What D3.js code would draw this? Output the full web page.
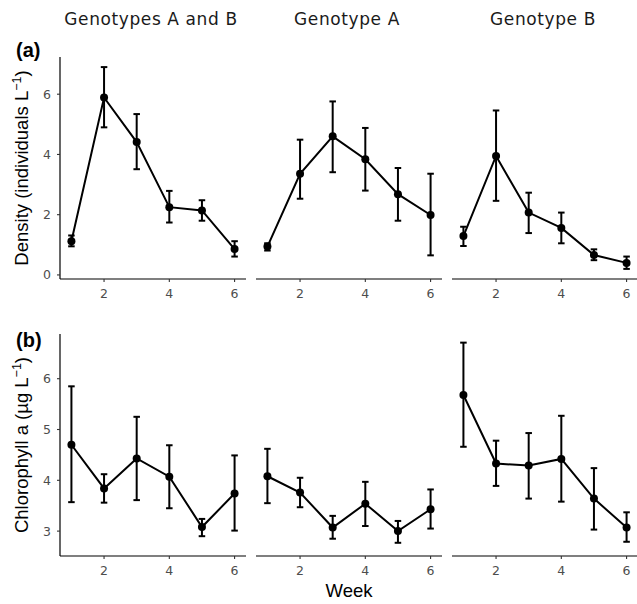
<!DOCTYPE html>
<html>
<head>
<meta charset="utf-8">
<script src="https://cdn.jsdelivr.net/npm/d3@7"></script>
<style>
  body { margin: 0; background: #fff; }
  svg { display: block; }
</style>
</head>
<body>
<div id="chart"></div>
<script>
// global const
const width = 637, height = 604;
const panelX = [60, 256, 452], panelW = 186;
const rowA = { top: 57, bottom: 279 }, rowB = { top: 334, bottom: 556 };
const tickFont = "'DejaVu Sans', Verdana, sans-serif";
const titleFont = "'Liberation Sans', Arial, sans-serif";

// data
const weeks = [1, 2, 3, 4, 5, 6];
const genotypes = ["Genotypes A and B", "Genotype A", "Genotype B"];

// (a) density, mean and error bar limits
const densityMean = [
    [1.12, 5.89, 4.41, 2.25, 2.14, 0.86],
    [0.94, 3.36, 4.60, 3.84, 2.68, 1.99],
    [1.29, 3.95, 2.07, 1.56, 0.66, 0.40]
];
const densityLow = [
    [0.95, 4.90, 3.51, 1.74, 1.80, 0.61],
    [0.81, 2.53, 3.41, 2.80, 1.80, 0.65],
    [0.96, 2.46, 1.39, 1.05, 0.49, 0.20]
];
const densityHigh = [
    [1.31, 6.90, 5.34, 2.79, 2.48, 1.12],
    [1.05, 4.49, 5.76, 4.88, 3.55, 3.36],
    [1.60, 5.46, 2.73, 2.07, 0.85, 0.61]
];

// (b) chlorophyll a
const chlMean = [
    [4.70, 3.84, 4.43, 4.07, 3.08, 3.74],
    [4.08, 3.76, 3.07, 3.54, 3.00, 3.43],
    [5.68, 4.33, 4.29, 4.42, 3.64, 3.07]
];
const chlLow = [
    [3.57, 3.56, 3.61, 3.45, 2.90, 3.01],
    [3.55, 3.47, 2.85, 3.10, 2.77, 3.05],
    [4.66, 3.89, 3.64, 3.58, 3.03, 2.79]
];
const chlHigh = [
    [5.85, 4.12, 5.25, 4.69, 3.24, 4.49],
    [4.62, 4.05, 3.30, 3.97, 3.20, 3.82],
    [6.71, 4.78, 4.93, 5.27, 4.24, 3.37]
];

const xTicks = [2, 4, 6];
const densityTicks = [0, 2, 4, 6];
const chlTicks = [3, 4, 5, 6];

var svg = d3.select("#chart")
    .append("svg")
    .attr("width", width)
    .attr("height", height)
    .style("background-color", "white");

const yA = d3.scaleLinear().domain([-0.135, 7.235]).range([rowA.bottom, rowA.top]);
const yB = d3.scaleLinear().domain([2.51, 6.88]).range([rowB.bottom, rowB.top]);

function drawPanel(g, x, y, mean, low, high, yTicks, showY) {
    var x0 = x.range()[0], x1 = x.range()[1];
    var yb = y.range()[0], yt = y.range()[1];

    // x axis
    g.append("line")
        .attr("x1", x0).attr("x2", x1)
        .attr("y1", yb).attr("y2", yb)
        .attr("stroke", "black").attr("stroke-width", 1.2);
    xTicks.forEach(t => {
        g.append("line")
            .attr("x1", x(t)).attr("x2", x(t))
            .attr("y1", yb).attr("y2", yb + 3)
            .attr("stroke", "#333").attr("stroke-width", 1.1);
        g.append("text")
            .attr("x", x(t)).attr("y", yb + 19)
            .attr("text-anchor", "middle")
            .attr("font-family", tickFont)
            .attr("font-size", 12.5)
            .attr("fill", "#4d4d4d")
            .text(t);
    });

    // y axis only on the first column
    if (showY) {
        g.append("line")
            .attr("x1", x0).attr("x2", x0)
            .attr("y1", yb).attr("y2", yt)
            .attr("stroke", "black").attr("stroke-width", 1.2);
        yTicks.forEach(t => {
            g.append("line")
                .attr("x1", x0 - 3).attr("x2", x0)
                .attr("y1", y(t)).attr("y2", y(t))
                .attr("stroke", "#333").attr("stroke-width", 1.1);
            g.append("text")
                .attr("x", x0 - 9).attr("y", y(t) + 4.5)
                .attr("text-anchor", "end")
                .attr("font-family", tickFont)
                .attr("font-size", 12.5)
                .attr("fill", "#4d4d4d")
                .text(t);
        });
    }

    var line = d3.line()
        .x((d, i) => x(weeks[i]))
        .y(d => y(d));

    g.append("path")
        .datum(mean)
        .attr("d", line)
        .attr("fill", "none")
        .attr("stroke", "black")
        .attr("stroke-width", 2);

    var capW = x(1.1) - x(1);
    weeks.forEach((w, i) => {
        var cx = x(w);
        g.append("line")
            .attr("x1", cx).attr("x2", cx)
            .attr("y1", y(low[i])).attr("y2", y(high[i]))
            .attr("stroke", "black").attr("stroke-width", 2);
        [low[i], high[i]].forEach(v => {
            g.append("line")
                .attr("x1", cx - capW).attr("x2", cx + capW)
                .attr("y1", y(v)).attr("y2", y(v))
                .attr("stroke", "black").attr("stroke-width", 2);
        });
    });

    g.selectAll("circle")
        .data(mean)
        .join("circle")
        .attr("cx", (d, i) => x(weeks[i]))
        .attr("cy", d => y(d))
        .attr("r", 4)
        .attr("fill", "black");
}

genotypes.forEach((name, k) => {
    var x = d3.scaleLinear()
        .domain([0.65, 6.35])
        .range([panelX[k], panelX[k] + panelW]);

    // strip title
    svg.append("text")
        .attr("x", panelX[k] + panelW / 2 - 2)
        .attr("y", 25)
        .attr("text-anchor", "middle")
        .attr("font-family", tickFont)
        .attr("font-size", 17)
        .attr("letter-spacing", 0.6)
        .attr("fill", "#1a1a1a")
        .text(name);

    drawPanel(svg.append("g"), x, yA, densityMean[k], densityLow[k], densityHigh[k], densityTicks, k == 0);
    drawPanel(svg.append("g"), x, yB, chlMean[k], chlLow[k], chlHigh[k], chlTicks, k == 0);
});

// panel tags
svg.append("text")
    .attr("x", 16).attr("y", 57)
    .attr("font-family", titleFont)
    .attr("font-weight", "bold")
    .attr("font-size", 20)
    .text("(a)");
svg.append("text")
    .attr("x", 16).attr("y", 347)
    .attr("font-family", titleFont)
    .attr("font-weight", "bold")
    .attr("font-size", 20)
    .text("(b)");

// axis titles
const yTitleA = svg.append("text")
    .attr("transform", `translate(28, ${(rowA.top + rowA.bottom) / 2}) rotate(-90)`)
    .attr("text-anchor", "middle")
    .attr("font-family", titleFont)
    .attr("font-size", 18.5);
yTitleA.append("tspan").text("Density (individuals L");
yTitleA.append("tspan").attr("dy", -7).attr("font-size", 12.5).text("\u22121");
yTitleA.append("tspan").attr("dy", 7).text(")");

const yTitleB = svg.append("text")
    .attr("transform", `translate(28, ${(rowB.top + rowB.bottom) / 2}) rotate(-90)`)
    .attr("text-anchor", "middle")
    .attr("font-family", titleFont)
    .attr("font-size", 18.5);
yTitleB.append("tspan").text("Chlorophyll a (\u00b5g L");
yTitleB.append("tspan").attr("dy", -7).attr("font-size", 12.5).text("\u22121");
yTitleB.append("tspan").attr("dy", 7).text(")");

svg.append("text")
    .attr("x", 349).attr("y", 597)
    .attr("text-anchor", "middle")
    .attr("font-family", titleFont)
    .attr("font-size", 18.5)
    .text("Week");
</script>
</body>
</html>
